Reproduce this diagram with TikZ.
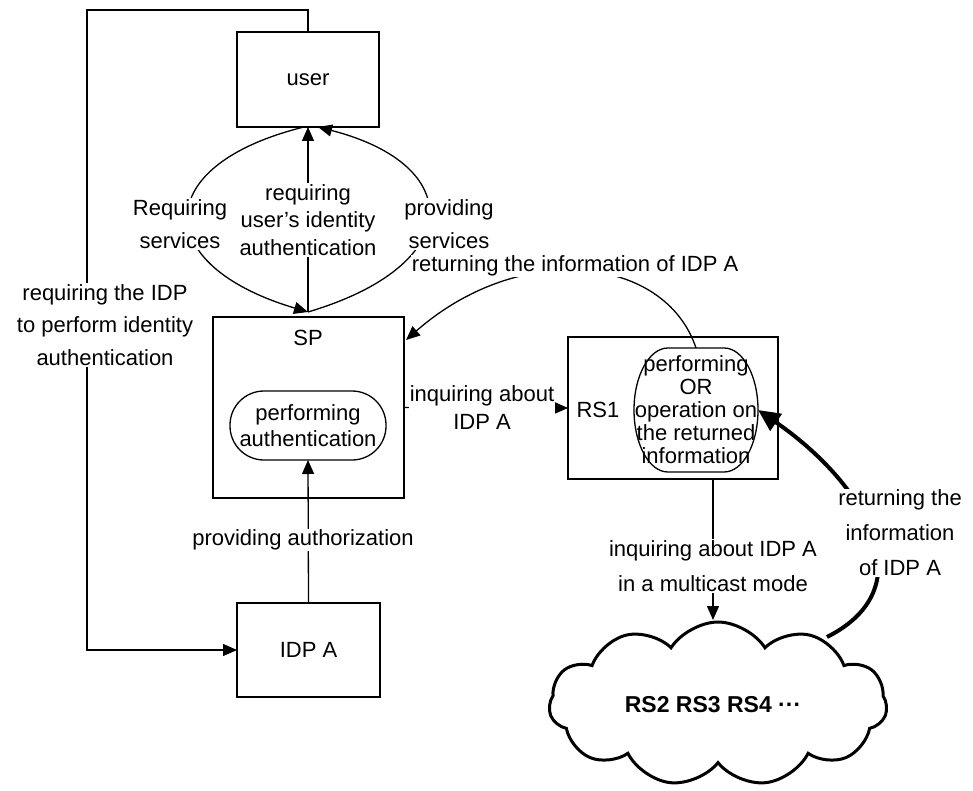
\documentclass[tikz,border=0pt]{standalone}
\usepackage{fontspec}
\setmainfont{Liberation Sans}
\usetikzlibrary{shapes.symbols,arrows.meta}
\begin{document}
\begin{tikzpicture}[x=1pt,y=-1pt,line width=1.3pt,
  every node/.style={font=\fontsize{22}{33}\selectfont},
  box/.style={draw,rectangle,inner sep=0pt,outer sep=0pt},
  lbl/.style={fill=white,inner sep=1pt,align=center},
  arr/.style={-{Triangle[length=14pt,width=12pt]}},
  thickarr/.style={line width=4pt,-{Triangle[length=22pt,width=20pt]}},
]
\useasboundingbox (0,0) rectangle (973,791);
% boxes
\node[box,minimum width=142pt,minimum height=95pt] (user) at (308,79.5) {user};
\node[box,minimum width=191pt,minimum height=181pt] (SP) at (308.5,407.5) {};
\node (SPt) at (308,338) {SP};
\node[box,rounded corners=34pt,minimum width=156pt,minimum height=69pt,align=center,font=\fontsize{22}{26}\selectfont] (auth) at (308,425.5) {performing\\authentication};
\node[box,minimum width=210pt,minimum height=142pt] (RS1) at (673,408) {};
\node (RS1t) at (598,410) {RS1};
\node[inner sep=0pt,outer sep=0pt,minimum width=124pt,minimum height=124pt,align=center,font=\fontsize{22}{23}\selectfont] (op) at (696,410) {performing\\OR\\operation on\\the returned\\information};
\draw (668,348) -- (724,348) .. controls (743,348) and (758,376) .. (758,410)
  .. controls (758,444) and (743,472) .. (724,472) -- (668,472)
  .. controls (649,472) and (634,444) .. (634,410)
  .. controls (634,376) and (649,348) .. (668,348) -- cycle;
\node[box,minimum width=143pt,minimum height=94pt] (idp) at (308.5,650) {IDP A};
\node[cloud,draw,line width=3pt,cloud puffs=11,cloud puff arc=115,aspect=2,minimum width=338pt,minimum height=164pt] (cloud) at (718,704) {};
\node[font=\bfseries\fontsize{23}{28}\selectfont] (cloudt) at (713,705) {RS2 RS3 RS4 ···};
% connectors user <-> SP
\coordinate (j) at (308,312);
\draw[arr] (j) -- (user.south);
\draw[arr] ([xshift=-4pt]user.south) .. controls (150,165) and (150,265) .. (j);
\draw[arr] (j) .. controls (466,265) and (466,165) .. ([xshift=10pt]user.south);
\node[lbl] (lreq) at (180,224) {Requiring\\services};
\node[lbl] (lprov) at (449,224) {providing\\services};
\node[lbl,font=\fontsize{22}{27.5}\selectfont] (lmid) at (308,220) {requiring\\user's identity\\authentication};
% user -> IDP
\draw[arr] (user.north) |- (87,10) |- (idp.west);
\node[lbl,font=\fontsize{22}{32.5}\selectfont] (lidp) at (105,325) {requiring the IDP\\to perform identity\\authentication};
% returning info to SP
\draw[arr] (op.north) .. controls (665,255) and (520,240) .. ([shift={(2pt,-23pt)}]SP.north east);
\node[lbl] (lret) at (575,266) {returning the information of IDP A};
% inquiry SP -> RS1
\draw[arr] (SP.east) -- (RS1.west);
\node[lbl,font=\fontsize{22}{28}\selectfont] (linq) at (482,408) {inquiring about\\IDP A};
% authorization
\draw[arr] (idp.north) -- (auth.south);
\node[lbl] (lauth) at (303,540) {providing authorization};
% multicast
\coordinate (ct) at (713,620);
\draw[arr] (RS1.south -| ct) -- (ct);
\node[lbl,font=\fontsize{22}{35}\selectfont] (lmc) at (713,566) {inquiring about IDP A\\in a multicast mode};
% thick return
\coordinate (cr) at (827,637);
\draw[thickarr] (cr) .. controls (930,585) and (860,480) .. (op.east);
\node[lbl,font=\fontsize{22}{35}\selectfont] (lret2) at (900,533) {returning the\\information\\of IDP A};
\end{tikzpicture}
\end{document}
